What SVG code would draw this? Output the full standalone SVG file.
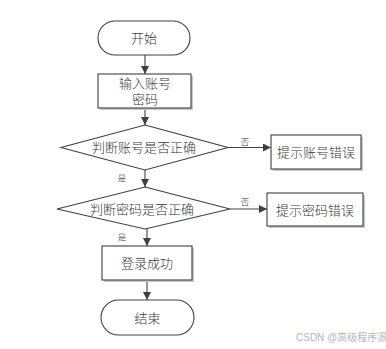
<svg xmlns="http://www.w3.org/2000/svg" width="386" height="349" viewBox="0 0 386 349">
<style>
.shape{fill:#fff;stroke:#404040;stroke-width:1.1}
.shadow{fill:#c8c8c8}
.t{font-family:"Liberation Serif","Noto Sans CJK SC",serif;font-size:13px;font-weight:300;fill:#383838;text-anchor:middle;dominant-baseline:central}
.s{font-family:"Liberation Serif","Noto Sans CJK SC",serif;font-size:8.5px;font-weight:300;fill:#303030;text-anchor:middle;dominant-baseline:central}
.c{stroke:#404040;stroke-width:1.1;fill:none;marker-end:url(#ah)}
.wm{font-family:"Liberation Sans","Noto Sans CJK SC",sans-serif;font-size:10px;fill:#b8b8b8}
</style>
<defs>
<marker id="ah" markerWidth="8" markerHeight="8" refX="8" refY="4" orient="auto" markerUnits="userSpaceOnUse">
<path d="M0,0 L8,4 L0,8 Z" fill="#404040"/>
</marker>
</defs>
<rect width="386" height="349" fill="#fff"/>
<g id="connectors">
<line class="c" x1="145" y1="55" x2="145" y2="74"/>
<line class="c" x1="145" y1="108" x2="145" y2="125"/>
<line class="c" x1="228" y1="147.5" x2="271" y2="147.5"/>
<line class="c" x1="145" y1="170" x2="145" y2="187"/>
<line class="c" x1="230" y1="209" x2="267" y2="209"/>
<line class="c" x1="147" y1="229" x2="147" y2="246"/>
<line class="c" x1="147" y1="280" x2="147" y2="300"/>
<text class="s" x="245" y="142">否</text>
<text class="s" x="122" y="178">是</text>
<text class="s" x="245" y="202">否</text>
<text class="s" x="122" y="237">是</text>
</g>
<g id="start">
<rect class="shape" x="98" y="21" width="92" height="34" rx="17"/>
<text class="t" x="144" y="38">开始</text>
</g>
<g id="input">
<rect class="shadow" x="100" y="76" width="93" height="34"/>
<rect class="shape" x="98" y="74" width="93" height="34"/>
<text class="t" x="145" y="83">输入账号</text>
<text class="t" x="145" y="99">密码</text>
</g>
<g id="check-account">
<polygon class="shape" points="145,125 228,147.5 145,170 61,147.5"/>
<text class="t" x="144" y="147.5">判断账号是否正确</text>
</g>
<g id="account-error">
<rect class="shadow" x="273" y="137" width="90" height="34"/>
<rect class="shape" x="271" y="135" width="90" height="34"/>
<text class="t" x="316" y="152">提示账号错误</text>
</g>
<g id="check-password">
<polygon class="shape" points="145,187 230,209 145,229 57,209"/>
<text class="t" x="142" y="209">判断密码是否正确</text>
</g>
<g id="password-error">
<rect class="shadow" x="269" y="195" width="96" height="33"/>
<rect class="shape" x="267" y="193" width="96" height="33"/>
<text class="t" x="315" y="210">提示密码错误</text>
</g>
<g id="success">
<rect class="shadow" x="104" y="248" width="90" height="34"/>
<rect class="shape" x="102" y="246" width="90" height="34"/>
<text class="t" x="147" y="263">登录成功</text>
</g>
<g id="end">
<rect class="shape" x="101" y="300" width="93" height="35" rx="17.5"/>
<text class="t" x="147.5" y="318">结束</text>
</g>
<text class="wm" x="296" y="341">CSDN @高级程序源</text>
</svg>
